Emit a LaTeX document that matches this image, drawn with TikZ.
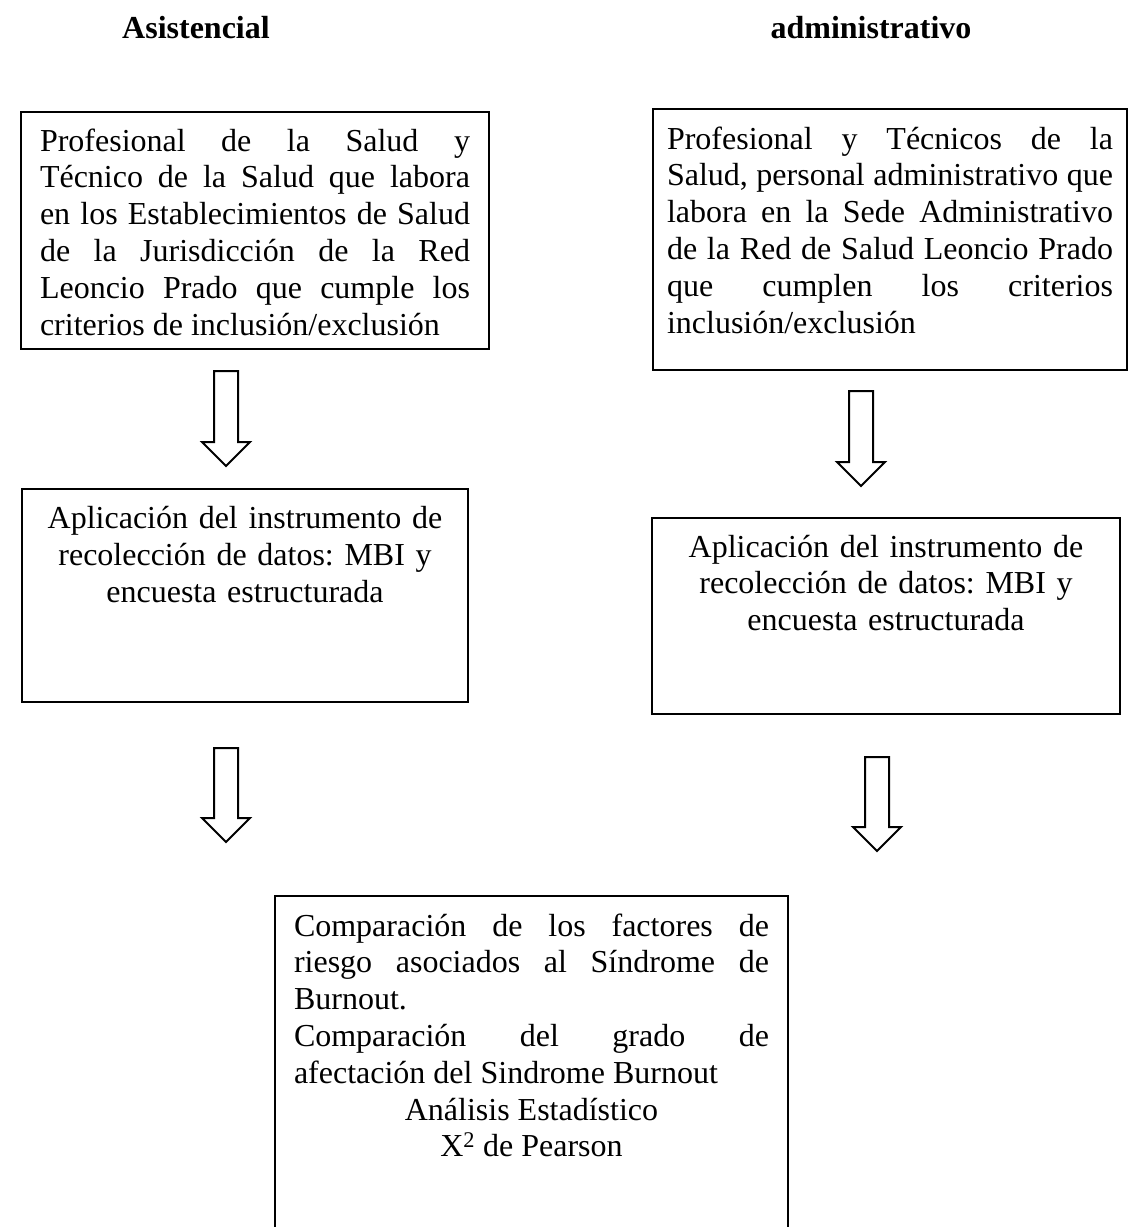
\documentclass[tikz,border=0pt]{standalone}
\usepackage{fontspec}
\setmainfont{Liberation Serif}
\usetikzlibrary{calc}
\hyphenpenalty=10000
\tolerance=10000
\frenchspacing

\begin{document}
\begin{tikzpicture}[x=1pt,y=-1pt,
    font=\fontsize{32}{36.8}\selectfont,
    caja/.style={draw, line width=2pt, anchor=north west, outer sep=0pt,
        inner xsep=19pt, inner ysep=0pt},
    titulo/.style={anchor=base, font=\fontsize{32}{36.8}\selectfont\bfseries},
    flecha/.style={line width=2pt, line join=miter, to path={
        let \p1=(\tikztostart), \p2=(\tikztotarget) in
        (\x1-12,\y1) -- (\x1+12,\y1) -- (\x1+12,\y2+24) -- (\x1+24,\y2+24)
        -- (\x1,\y2) -- (\x1-24,\y2+24) -- (\x1-12,\y2+24) -- cycle}}]
    \useasboundingbox (0,0) rectangle (1129,1227);
    \clip (0,0) rectangle (1129,1227);

    % Column titles
    \node[titulo] (asis) at (196,38) {Asistencial};
    \node[titulo] (admin) at (871,38) {administrativo};

    % Population boxes
    \node[caja, text width=430pt, align=justify, text height=39.5pt, text depth=198pt]
        (pobasis) at (21,111.5) {Profesional de la Salud y\linebreak
        Técnico de la Salud que labora\linebreak
        en los Establecimientos de Salud\linebreak
        de la Jurisdicción de la Red\linebreak
        Leoncio Prado que cumple los\linebreak
        criterios de inclusión/exclusión};
    \node[caja, inner xsep=14pt, text width=446pt, align=justify, text height=40.5pt, text depth=221pt]
        (pobadmin) at (653,108.5) {Profesional y Técnicos de la\linebreak
        Salud, personal administrativo que\linebreak
        labora en la Sede Administrativo\linebreak
        de la Red de Salud Leoncio Prado\linebreak
        que cumplen los criterios\linebreak
        inclusión/exclusión};

    % Instrument boxes
    \node[caja, text width=408pt, align=center, text height=39.5pt, text depth=173.5pt]
        (instasis) at (22,489) {Aplicación del instrumento de\\
        recolección de datos: MBI y\\ encuesta estructurada};
    \node[caja, text width=430pt, align=center, text height=39pt, text depth=157pt]
        (instadmin) at (652,518) {Aplicación del instrumento de\\
        recolección de datos: MBI y\\ encuesta estructurada};

    % Comparison box (runs off the page)
    \node[caja, text width=475pt, align=justify, text height=40pt, text depth=314pt]
        (comp) at (275,896) {Comparación de los factores de\linebreak
        riesgo asociados al Síndrome de\linebreak
        Burnout.\par
        Comparación del grado de\linebreak
        afectación del Sindrome Burnout\par
        {\centering Análisis Estadístico\\ X\textsuperscript{2} de Pearson\par}};

    % Block arrows
    \coordinate (asis1ini) at (226,371);
    \coordinate (asis1fin) at (226,466);
    \coordinate (admin1ini) at (861,391);
    \coordinate (admin1fin) at (861,486);
    \coordinate (asis2ini) at (226,748);
    \coordinate (asis2fin) at (226,842);
    \coordinate (admin2ini) at (877,757);
    \coordinate (admin2fin) at (877,851);
    \draw[flecha] (asis1ini) to (asis1fin);
    \draw[flecha] (admin1ini) to (admin1fin);
    \draw[flecha] (asis2ini) to (asis2fin);
    \draw[flecha] (admin2ini) to (admin2fin);
\end{tikzpicture}
\end{document}
